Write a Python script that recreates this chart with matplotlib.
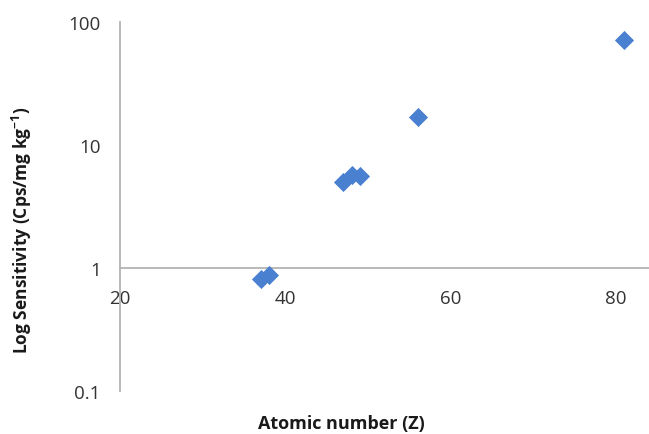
import matplotlib
matplotlib.use("Agg")
import matplotlib.pyplot as plt

# Data
atomic_number = [37, 38, 47, 48, 49, 56, 81]
sensitivity = [0.815, 0.877, 5.03, 5.71, 5.6, 16.9, 71.4]
x_ticks = [20, 40, 60, 80]
y_ticks = [0.1, 1, 10, 100]
y_tick_labels = ["0.1", "1", "10", "100"]

plt.rcParams['font.family'] = ['Open Sans', 'DejaVu Sans']
plt.rcParams['mathtext.fontset'] = 'custom'
plt.rcParams['mathtext.rm'] = 'Open Sans:bold'
plt.rcParams['mathtext.bf'] = 'Open Sans:bold'
plt.rcParams['mathtext.default'] = 'bf'

fig = plt.figure(figsize=(6.49, 4.35), dpi=100)
W, H = 649, 435
left_px, right_px, top_px, bottom_px = 120, 649, 22.7, 392
ax = fig.add_axes([left_px / W, (H - bottom_px) / H,
                   (right_px - left_px) / W, (bottom_px - top_px) / H])

ax.scatter(atomic_number, sensitivity, marker='D', s=95, color='#4a80d0',
           linewidths=0, zorder=3, clip_on=False)

ax.set_yscale('log')
ax.set_xlim(20, 20 + (right_px - left_px) / 8.27)
ax.set_ylim(0.1, 100)
ax.set_xticks(x_ticks)
ax.set_xticklabels([str(t) for t in x_ticks])
ax.set_yticks(y_ticks)
ax.set_yticklabels(y_tick_labels)
ax.minorticks_off()

axis_color = '#b3b3b3'
for s in ['top', 'right']:
    ax.spines[s].set_visible(False)
ax.spines['bottom'].set_position(('data', 1))
ax.spines['bottom'].set_color(axis_color)
ax.spines['left'].set_color(axis_color)
ax.spines['bottom'].set_linewidth(1.3)
ax.spines['left'].set_linewidth(1.3)

ax.tick_params(axis='both', length=0, labelsize=13.5, colors='#333333')
ax.tick_params(axis='x', pad=15)
ax.tick_params(axis='y', pad=14)

fig.text(341 / W, 1 - 424 / H, "Atomic number (Z)", ha='center', va='center',
         fontsize=13, fontweight='bold', color='#1a1a1a')
fig.text(22 / W, 1 - 230 / H, "Log Sensitivity (Cps/mg kg$^{-1}$)", ha='center',
         va='center', rotation=90, fontsize=12.5, fontweight='bold', color='#1a1a1a')

fig.savefig("out.png", dpi=100)
